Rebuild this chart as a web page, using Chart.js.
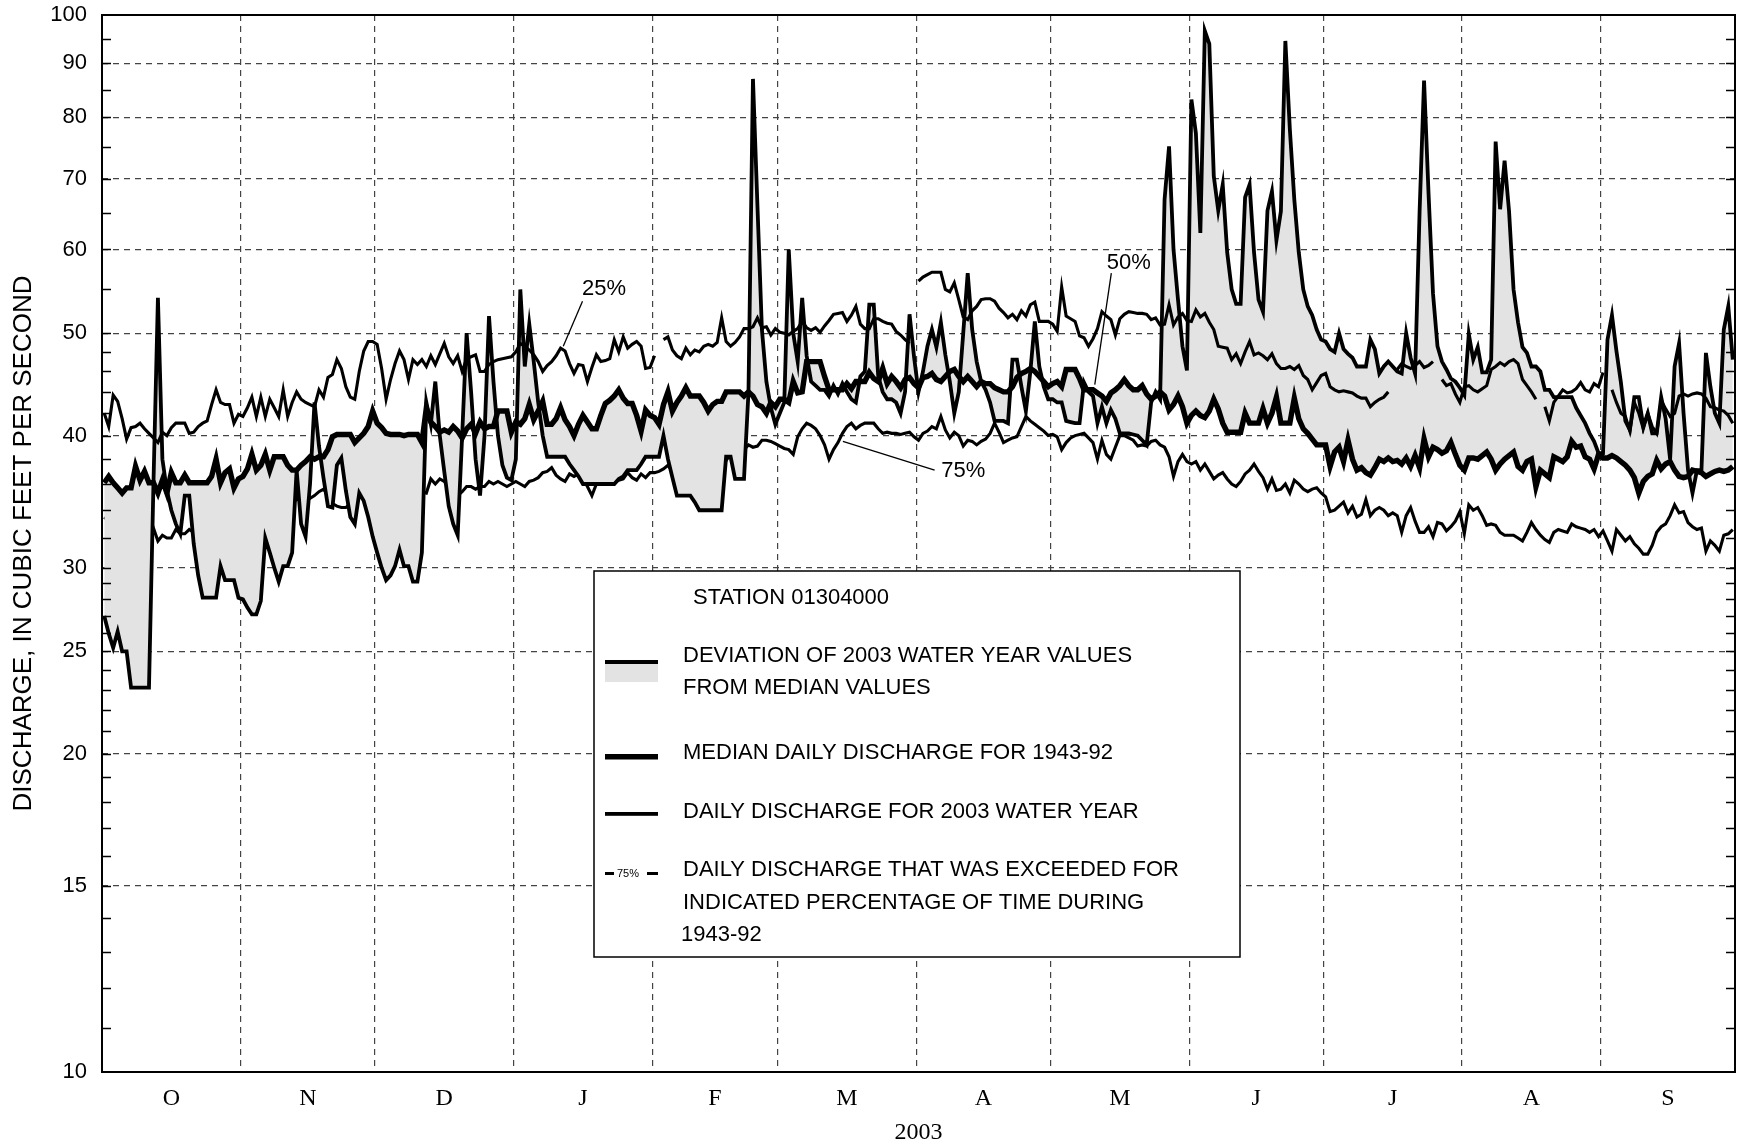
<!DOCTYPE html>
<html><head><meta charset="utf-8">
<script src="https://cdn.jsdelivr.net/npm/chart.js@4.4.1/dist/chart.umd.min.js"></script>
<style>html,body{margin:0;padding:0;background:#fff;}#wrap{width:1741px;height:1148px;position:relative;}</style>
</head><body><div id="wrap"><canvas id="c" width="1741" height="1148"></canvas></div>
<script>
// ---------- categories / ticks ----------
const monthLabels = ['O','N','D','J','F','M','A','M','J','J','A','S'];
const monthStarts = [0,31,61,92,123,151,182,212,243,273,304,335,365];
const yMajorTicks = [10,15,20,25,30,40,50,60,70,80,90,100];
const yMinorTicks = [11,12,13,14,16,17,18,19,21,22,23,24,26,27,28,29,32,34,36,38,42,44,46,48,55,65,75,85,95];

// ---------- series (daily values, water year Oct 2002 - Sep 2003) ----------
const median = [
 36.1,36.6,36.1,35.7,35.3,35.7,35.7,37.4,36.3,37.0,36.1,36.1,35.3,36.3,35.3,36.9,36.1,36.1,36.7,36.1,36.1,36.1,36.1,36.1,36.6,38.0,36.1,36.9,37.2,35.7,36.4,
 36.6,37.2,38.4,37.1,37.5,38.4,37.1,38.2,38.2,38.2,37.5,37.1,37.1,37.5,37.8,38.2,38.0,38.2,38.2,38.8,39.9,40.1,40.1,40.1,40.1,39.4,39.8,40.2,40.8,42.2,
 41.1,40.7,40.2,40.1,40.1,40.1,40.0,40.1,40.1,40.1,39.4,42.5,41.2,40.8,40.3,40.5,40.3,40.8,40.4,39.8,40.6,41.0,40.2,41.2,40.6,40.8,40.8,42.2,42.2,42.2,40.3,
 41.2,41.0,41.5,42.8,41.4,42.2,43.1,41.0,41.0,41.5,42.5,41.4,40.8,40.0,41.0,41.8,41.2,40.6,40.6,41.8,42.9,43.2,43.6,44.2,43.4,42.9,42.9,41.8,40.4,42.3,41.8,
 41.6,41.0,42.8,44.0,42.2,43.0,43.6,44.4,43.6,43.6,43.6,43.0,42.2,42.8,43.1,43.1,44.0,44.0,44.0,44.0,43.6,44.0,43.6,42.8,42.6,42.0,43.0,42.6,
 43.3,43.3,43.0,45.0,43.9,44.0,47.0,47.0,47.0,47.0,45.5,44.2,44.2,44.2,44.2,44.8,44.3,45.0,45.0,45.0,45.9,45.3,45.0,46.3,44.8,45.5,45.0,44.4,45.2,45.4,44.8,
 44.4,45.4,45.5,45.8,45.2,45.0,45.5,46.0,46.2,45.5,45.0,45.5,45.0,44.5,45.0,44.8,44.8,44.4,44.2,44.0,44.0,44.5,45.4,45.8,46.0,46.3,46.0,45.5,45.0,44.5,
 44.8,45.0,44.5,46.2,46.2,46.2,45.3,44.2,44.2,44.2,43.9,43.6,43.1,43.9,44.2,44.6,45.2,44.6,44.2,44.2,44.6,43.8,43.3,43.6,44.0,43.6,42.3,42.8,43.6,42.6,41.1,
 41.8,42.2,41.8,41.6,42.2,43.3,42.4,41.1,40.3,40.3,40.3,40.3,42.0,41.1,41.1,41.1,42.4,41.1,42.0,43.5,41.1,41.1,41.1,43.4,41.5,40.6,40.2,39.7,39.2,39.2,
 39.2,37.4,38.6,39.0,37.8,39.6,38.0,37.1,37.3,36.9,36.7,37.3,38.0,37.8,38.1,37.8,37.9,37.6,38.1,37.4,38.3,37.3,39.7,38.2,39.0,38.8,38.5,38.7,39.4,38.4,37.5,
 37.1,38.1,38.1,38.0,38.3,38.6,38.0,37.1,37.6,38.0,38.3,38.6,37.4,37.1,37.8,38.0,35.8,37.1,36.8,36.5,38.2,38.0,37.8,38.2,39.5,39.0,39.1,38.2,38.0,37.2,38.4,
 38.1,38.1,38.3,38.1,37.8,37.5,37.1,36.5,35.3,36.2,36.6,36.8,37.9,37.2,37.6,37.8,37.1,36.6,36.5,36.6,37.1,37.0,36.9,36.6,36.8,37.0,37.1,37.0,37.1,37.4
];
const daily2003 = [
 27.0,26.0,25.2,26.1,25.0,25.0,23.1,23.1,23.1,23.1,23.1,36.0,54.0,38.0,35.5,34.0,33.0,32.3,35.1,35.1,31.6,29.5,28.1,28.1,28.1,28.1,30.1,29.2,29.2,29.2,28.1,
 28.0,27.5,27.1,27.1,27.9,32.0,31.0,30.0,29.1,30.1,30.1,31.0,37.1,33.0,32.1,36.0,43.0,39.1,36.5,34.3,34.2,37.5,38.1,35.5,33.5,33.0,35.3,34.7,33.5,32.1,
 31.0,30.0,29.2,29.5,30.1,31.2,30.1,30.1,29.1,29.1,31.0,43.0,41.0,45.0,40.0,37.0,34.3,33.0,32.2,40.0,50.0,44.0,38.0,35.1,40.0,51.9,45.0,40.0,37.5,36.5,36.3,
 38.0,55.0,46.5,51.0,47.0,43.0,40.0,38.2,38.2,38.2,38.2,38.2,37.6,37.1,36.6,36.0,36.0,36.0,36.0,36.0,36.0,36.0,36.0,36.4,36.6,37.1,37.1,37.1,37.6,38.2,38.2,
 38.2,38.2,40.0,38.0,36.5,35.1,35.1,35.1,35.1,34.6,34.0,34.0,34.0,34.0,34.0,34.0,38.2,38.2,36.4,36.4,36.4,44.0,87.0,66.0,50.4,45.0,42.5,41.0,
 42.0,43.0,60.0,50.0,47.0,54.0,47.6,45.0,44.6,44.2,44.2,43.6,44.6,43.8,44.8,44.0,43.3,43.0,45.5,46.0,53.2,53.2,45.5,44.0,43.3,43.3,43.0,42.0,44.0,52.1,47.5,
 44.0,46.0,48.6,50.4,48.5,51.2,47.7,45.0,42.0,44.0,50.0,57.0,50.4,47.0,45.0,44.2,43.0,41.3,41.3,41.3,41.1,47.2,47.2,44.5,42.2,46.0,51.3,46.5,44.5,43.3,
 43.3,43.0,43.0,41.3,41.2,41.1,41.1,44.9,44.0,43.6,41.1,42.6,41.1,42.3,41.5,40.2,40.2,40.2,40.1,40.0,39.6,39.2,43.0,44.0,43.3,66.9,75.1,60.0,53.8,48.6,46.1,
 83.2,77.3,62.2,96.6,93.9,70.4,65.3,69.1,59.6,55.0,53.3,53.3,67.2,69.1,59.6,53.8,52.4,65.3,68.1,61.2,65.2,94.5,78.0,66.9,59.6,55.0,53.0,52.0,50.4,49.3,
 49.1,48.3,48.0,50.0,48.3,47.8,47.4,46.5,46.5,46.5,49.3,48.3,45.8,46.5,47.0,46.5,46.0,45.8,50.0,47.4,45.8,65.1,86.7,67.8,54.5,48.6,47.0,46.2,45.3,45.0,44.4,
 43.7,49.9,47.2,48.5,45.9,45.9,47.2,75.9,65.5,72.8,65.2,55.0,51.2,48.5,47.9,46.5,46.5,46.0,44.2,44.2,43.5,43.5,43.5,43.5,43.5,42.5,41.8,41.1,40.2,39.5,38.5,
 38.5,49.3,52.0,48.1,44.9,41.3,40.5,43.5,43.5,40.8,42.0,40.2,40.2,43.5,41.5,38.0,46.5,48.9,42.0,37.1,35.3,37.1,37.1,47.9,44.5,42.0,41.1,50.4,53.0,47.2
];
const pct25 = [
 42.0,40.8,43.7,43.1,41.5,39.7,40.7,40.8,41.1,40.6,40.2,39.8,39.4,40.3,40.0,40.7,41.1,41.1,41.1,40.2,40.3,40.8,41.1,41.3,42.8,44.2,43.0,42.8,42.8,41.1,41.9,
 41.7,42.5,43.5,41.7,43.5,41.7,43.3,42.5,41.7,44.2,41.7,43.0,44.0,43.3,43.0,42.8,42.6,44.2,43.5,45.4,45.7,47.2,46.3,44.5,43.5,43.3,46.0,48.1,49.1,49.1,
 48.8,46.3,43.3,45.2,46.8,48.1,47.2,45.2,47.2,46.7,47.2,46.5,47.6,46.7,47.8,48.9,47.5,46.8,47.6,46.0,47.3,47.5,47.7,46.0,46.0,46.7,47.0,47.2,47.3,47.4,47.5,
 48.0,48.9,48.6,48.2,47.7,47.0,46.0,46.6,47.0,47.6,48.4,48.1,46.8,45.8,46.7,46.6,45.0,46.4,47.7,47.0,47.1,47.3,49.3,48.0,49.6,48.4,48.8,49.1,48.6,46.3,46.4,
 47.6,null,49.3,49.6,48.2,47.6,47.3,48.4,47.7,48.2,48.0,48.6,48.8,48.6,49.0,51.7,49.1,48.6,49.0,49.6,50.5,50.5,50.7,51.7,50.6,50.7,49.8,50.5,
 50.1,50.0,49.8,50.2,50.5,51.3,50.6,50.3,50.6,50.1,50.8,51.4,52.1,52.2,52.3,51.3,52.0,53.0,51.0,50.5,50.5,51.6,51.6,51.3,51.1,51.0,50.2,49.8,49.3,48.9,null,
 56.0,56.5,56.8,57.1,57.1,57.1,55.0,54.7,55.8,53.8,51.8,51.5,52.5,53.0,53.8,53.9,53.9,53.6,52.8,52.3,51.7,52.1,51.5,52.5,51.9,53.2,53.5,51.3,51.3,51.3,
 51.0,50.2,55.3,51.9,51.6,51.3,49.7,49.5,48.6,49.4,50.5,52.4,51.9,51.5,49.8,51.6,52.1,52.4,52.3,52.2,52.2,52.1,51.5,51.7,50.9,51.0,53.2,50.9,51.8,52.2,51.4,
 51.3,52.6,51.8,52.2,51.2,50.4,48.6,48.5,48.4,47.2,47.8,46.8,48.0,49.1,47.7,47.9,47.6,47.2,47.8,46.8,46.3,46.3,46.5,46.2,46.6,45.6,45.2,44.2,44.9,45.6,
 45.8,44.5,44.2,44.0,44.1,44.0,43.9,43.6,43.4,43.4,42.6,43.0,43.3,43.5,44.0,null,46.2,46.8,46.5,46.3,46.6,47.0,46.4,46.6,47.0,null,45.2,44.6,44.8,43.8,43.0,
 44.5,44.6,44.2,44.0,44.3,44.6,46.2,46.5,46.9,46.6,47.0,47.2,46.8,45.2,44.6,44.0,43.3,null,42.6,41.3,43.0,43.6,44.2,43.9,44.0,44.3,44.9,44.2,44.0,44.8,44.5,
 45.9,null,44.2,43.0,42.0,41.7,40.4,43.0,42.0,40.6,42.0,40.8,40.2,43.2,42.4,41.7,42.0,43.6,43.8,43.6,43.8,43.9,43.8,43.4,42.6,42.5,42.3,42.2,41.8,41.1
];
const pct75 = [
 33.5,33.2,33.0,33.0,32.8,32.8,32.6,32.6,32.5,32.5,32.2,32.7,31.8,32.2,32.0,32.0,32.6,32.3,32.3,32.6,32.4,32.6,32.8,33.0,33.0,33.2,33.2,33.3,33.4,33.5,33.5,
 33.6,33.8,33.8,34.0,34.0,34.2,34.2,34.3,34.4,34.5,34.6,34.6,34.8,34.8,35.0,34.9,35.1,35.4,35.6,35.2,34.5,34.3,34.2,34.2,34.5,35.0,35.3,35.0,35.2,35.4,
 35.5,35.5,35.6,35.6,35.7,35.7,35.8,35.8,35.8,35.6,35.4,35.3,36.4,36.0,36.4,36.2,35.8,35.5,35.1,35.4,35.8,35.8,35.6,35.8,35.8,36.2,36.0,36.2,36.0,35.8,36.0,
 36.2,36.0,35.8,36.2,36.3,36.5,36.9,37.0,37.3,36.7,36.4,36.2,36.8,36.6,36.8,36.4,35.8,35.1,36.0,36.2,36.2,36.4,36.1,36.3,36.4,36.9,36.5,36.3,36.8,36.5,36.9,
 36.9,37.0,37.2,37.5,37.0,37.4,37.8,37.5,37.2,37.4,37.0,37.3,37.5,37.8,38.0,37.6,37.9,38.4,38.6,38.3,38.8,39.2,39.0,39.1,39.6,39.6,39.5,39.3,
 39.1,38.9,38.8,38.4,39.9,40.6,41.1,40.9,40.6,40.0,39.2,38.0,38.8,39.4,40.2,40.8,41.1,40.6,40.9,41.1,41.1,41.1,40.6,40.2,40.3,40.2,40.2,40.1,40.2,40.3,39.9,
 39.6,40.2,40.4,40.8,40.6,41.7,40.5,39.8,40.3,40.0,39.1,39.6,39.5,39.2,39.5,39.7,40.2,41.1,40.3,39.4,39.6,39.8,39.9,40.8,41.7,41.3,41.0,40.7,40.4,40.0,
 40.1,39.9,38.8,39.4,39.8,40.0,40.1,40.2,39.8,39.4,38.0,39.6,38.4,38.0,39.0,40.0,40.0,39.8,39.6,39.1,39.2,39.1,39.5,39.6,39.2,39.0,38.2,36.6,37.8,38.4,37.8,
 37.6,37.8,37.1,37.6,37.0,36.4,36.7,36.9,36.4,36.0,35.8,36.2,36.8,37.1,37.6,37.0,36.5,35.6,36.4,35.5,35.6,36.0,35.3,36.3,36.0,35.6,35.4,35.6,35.7,35.3,
 35.0,33.9,34.0,34.3,34.6,33.8,34.3,33.5,33.7,34.8,33.6,34.0,34.2,34.0,33.6,33.8,33.6,32.4,33.6,34.2,33.2,32.4,32.4,32.8,32.1,33.1,33.0,32.5,32.8,33.2,33.9,
 32.3,34.4,34.0,34.2,33.6,32.9,33.0,32.9,32.4,32.2,32.2,32.2,32.0,31.8,32.4,33.1,32.6,32.2,31.9,31.7,32.4,32.6,32.5,32.4,33.0,32.8,32.7,32.6,32.4,32.6,32.1,
 32.5,31.8,31.1,32.6,32.2,31.8,32.1,31.6,31.3,30.9,30.9,31.5,32.4,32.8,33.0,33.6,34.4,33.8,33.9,33.1,32.8,32.6,32.7,31.1,31.8,31.5,31.1,32.2,32.3,32.6
];

// percentile labels, anchored in data units (day, discharge)
const pctLabels = [
 {text:'25%', day:112.2, value:55.0, from:[107.4,53.6], to:[103.1,48.6]},
 {text:'50%', day:229.5, value:58.3, from:[225.6,57.0], to:[221.9,44.7]},
 {text:'75%', day:192.5, value:37.0, from:[165.6,39.5], to:[186.1,37.1]}
];

// ---------- build ----------
const FILL = '#e3e3e3';
const toPts = arr => arr.map((v,i)=>({x:i+0.5, y:v}));
const monthMids = monthLabels.map((_,i)=>(monthStarts[i]+monthStarts[i+1])/2);
const xTickVals = monthStarts.concat(monthMids).sort((a,b)=>a-b);
const yTickVals = yMajorTicks.concat(yMinorTicks).sort((a,b)=>a-b);
const TRANSP = 'rgba(0,0,0,0)';

const framePlugin = {
  id:'frame',
  afterDraw(chart){
    const {ctx, chartArea:a, scales} = chart;
    const y = scales.y;
    ctx.save();
    ctx.strokeStyle = '#000';
    ctx.lineWidth = 1.5;
    yTickVals.forEach(v=>{
      if (v===10 || v===100) return;
      const py = Math.round(y.getPixelForValue(v))+0.5;
      ctx.beginPath();
      ctx.moveTo(a.left, py); ctx.lineTo(a.left+9, py);
      ctx.moveTo(a.right-9, py); ctx.lineTo(a.right, py);
      ctx.stroke();
    });
    ctx.lineWidth = 2;
    ctx.strokeRect(a.left, a.top, a.right-a.left, a.bottom-a.top);
    ctx.restore();
  }
};

const labelPlugin = {
  id:'pctlabels',
  afterDatasetsDraw(chart){
    const {ctx, scales:{x,y}} = chart;
    ctx.save();
    ctx.fillStyle = '#000'; ctx.strokeStyle = '#000'; ctx.lineWidth = 1.3;
    ctx.font = '22px "Liberation Sans", Arial, sans-serif';
    ctx.textAlign = 'center'; ctx.textBaseline = 'middle';
    pctLabels.forEach(l=>{
      ctx.beginPath();
      ctx.moveTo(x.getPixelForValue(l.from[0]), y.getPixelForValue(l.from[1]));
      ctx.lineTo(x.getPixelForValue(l.to[0]), y.getPixelForValue(l.to[1]));
      ctx.stroke();
      ctx.fillText(l.text, x.getPixelForValue(l.day), y.getPixelForValue(l.value));
    });
    ctx.restore();
  }
};

const legendPlugin = {
  id:'boxlegend',
  afterDraw(chart){
    const ctx = chart.ctx;
    const L = 594, T = 571, W = 646, H = 386;
    ctx.save();
    ctx.fillStyle = '#fff';
    ctx.fillRect(L, T, W, H);
    ctx.strokeStyle = '#000'; ctx.lineWidth = 1.5;
    ctx.strokeRect(L, T, W, H);
    ctx.fillStyle = '#000';
    ctx.font = '22px "Liberation Sans", Arial, sans-serif';
    ctx.textAlign = 'left'; ctx.textBaseline = 'middle';
    ctx.fillText('STATION 01304000', L+99, T+27);
    // symbol 1: deviation
    ctx.fillStyle = FILL; ctx.fillRect(L+11, T+91, 53, 20);
    ctx.fillStyle = '#000'; ctx.fillRect(L+11, T+89, 53, 4);
    ctx.fillText('DEVIATION OF 2003 WATER YEAR VALUES', L+89, T+85);
    ctx.fillText('FROM MEDIAN VALUES', L+89, T+117);
    // symbol 2: median
    ctx.fillRect(L+11, T+183, 53, 5.5);
    ctx.fillText('MEDIAN DAILY DISCHARGE FOR 1943-92', L+89, T+182);
    // symbol 3: daily
    ctx.fillRect(L+11, T+241, 53, 3.8);
    ctx.fillText('DAILY DISCHARGE FOR 2003 WATER YEAR', L+89, T+241);
    // symbol 4: percentile
    ctx.fillRect(L+11, T+301, 9, 3);
    ctx.fillRect(L+53, T+301, 11, 3);
    ctx.font = '11px "Liberation Sans", Arial, sans-serif';
    ctx.fillText('75%', L+23, T+303);
    ctx.font = '22px "Liberation Sans", Arial, sans-serif';
    ctx.fillText('DAILY DISCHARGE THAT WAS EXCEEDED FOR', L+89, T+299);
    ctx.fillText('INDICATED PERCENTAGE OF TIME DURING', L+89, T+332);
    ctx.fillText('1943-92', L+87, T+364);
    ctx.restore();
  }
};

const lineBase = {pointRadius:0, pointHoverRadius:0, borderColor:'#000', tension:0, borderJoinStyle:'miter', borderCapStyle:'butt', spanGaps:false};

new Chart(document.getElementById('c'), {
  type:'line',
  data:{datasets:[
    Object.assign({label:'Median daily discharge 1943-92', data:toPts(median), borderWidth:5.4, fill:false, order:0}, lineBase),
    Object.assign({label:'Daily discharge 2003', data:toPts(daily2003), borderWidth:3.8, backgroundColor:FILL, fill:{target:'-1', above:FILL, below:FILL}, order:2}, lineBase),
    Object.assign({label:'25%', data:toPts(pct25), borderWidth:3.1, fill:false, order:1}, lineBase),
    Object.assign({label:'75%', data:toPts(pct75), borderWidth:3.1, fill:false, order:3}, lineBase)
  ]},
  options:{
    responsive:false, animation:false, devicePixelRatio:1,
    layout:{padding:{top:15, right:6, left:0, bottom:0}},
    plugins:{legend:{display:false}, tooltip:{enabled:false}, filler:{propagate:false}},
    scales:{
      x:{
        type:'linear', min:0, max:365,
        afterBuildTicks:s=>{ s.ticks = xTickVals.map(v=>({value:v})); },
        afterFit:s=>{ s.height = 76; s.paddingLeft = 0; s.paddingRight = 0; },
        grid:{drawTicks:false, lineWidth:1.2, color:c=>{const v=c.tick&&c.tick.value; return (v>0 && v<365 && monthStarts.includes(v)) ? '#444' : TRANSP;}},
        border:{display:false, dash:[6,5]},
        ticks:{autoSkip:false, maxRotation:0, padding:12, color:'#000',
          font:{family:'"Liberation Serif", "Times New Roman", serif', size:24},
          callback:(v)=>{const m = monthMids.indexOf(v); return m>=0 ? monthLabels[m] : '';}},
        title:{display:true, text:'2003', color:'#000', padding:{top:0,bottom:1},
          font:{family:'"Liberation Serif", "Times New Roman", serif', size:24}}
      },
      y:{
        type:'logarithmic', min:10, max:100,
        afterBuildTicks:s=>{ s.ticks = yTickVals.map(v=>({value:v})); },
        afterFit:s=>{ s.width = 102; s.paddingTop = 0; s.paddingBottom = 0; },
        grid:{drawTicks:false, lineWidth:1.2, color:c=>{const v=c.tick&&c.tick.value; return (yMajorTicks.includes(v) && v!==10 && v!==100) ? '#444' : TRANSP;}},
        border:{display:false, dash:[6,5]},
        ticks:{autoSkip:false, padding:15, color:'#000',
          font:{family:'"Liberation Sans", Arial, sans-serif', size:22},
          callback:(v)=> yMajorTicks.includes(v) ? String(v) : ''},
        title:{display:true, text:'DISCHARGE, IN CUBIC FEET PER SECOND', color:'#000', padding:{top:8,bottom:0},
          font:{family:'"Liberation Sans", Arial, sans-serif', size:26}}
      }
    }
  },
  plugins:[framePlugin, labelPlugin, legendPlugin]
});
</script>
</body></html>
